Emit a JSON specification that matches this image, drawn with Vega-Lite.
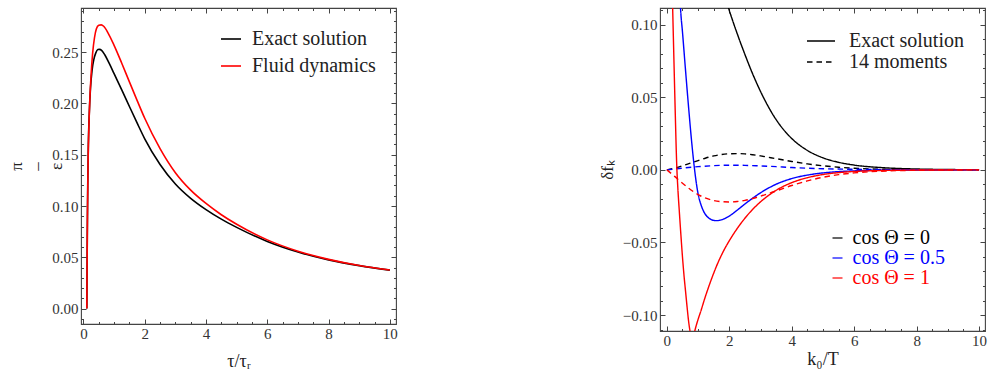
{
 "$schema": "https://vega.github.io/schema/vega-lite/v6.json",
 "padding": {"left": 7, "top": 0, "right": 0, "bottom": 0},
 "background": "white",
 "config": {
  "view": {"stroke": "#444", "strokeWidth": 1.1},
  "font": "Liberation Serif",
  "axis": {"labelFont": "Liberation Serif", "labelFontSize": 15, "labelColor": "#333", "titleFont": "Liberation Serif", "titleFontSize": 18, "titleFontWeight": "normal", "titleColor": "#222", "domain": false, "grid": false, "tickColor": "#444", "tickWidth": 1, "labelOverlap": false, "labelFlush": false},
  "legend": {"labelFont": "Liberation Serif", "labelFontSize": 20, "labelColor": "#222", "labelLimit": 300}
 },
 "resolve": {"scale": {"color": "independent", "strokeDash": "independent"}, "legend": {"color": "independent"}},
 "spacing": 199,
 "datasets": {
  "pi": [
   {"s": "Exact solution", "t": 0.11, "v": 0},
   {"s": "Exact solution", "t": 0.125, "v": 0.07},
   {"s": "Exact solution", "t": 0.14, "v": 0.12},
   {"s": "Exact solution", "t": 0.16, "v": 0.16},
   {"s": "Exact solution", "t": 0.19, "v": 0.19},
   {"s": "Exact solution", "t": 0.23, "v": 0.215},
   {"s": "Exact solution", "t": 0.28, "v": 0.232},
   {"s": "Exact solution", "t": 0.34, "v": 0.243},
   {"s": "Exact solution", "t": 0.4, "v": 0.249},
   {"s": "Exact solution", "t": 0.47, "v": 0.2525},
   {"s": "Exact solution", "t": 0.52, "v": 0.2527},
   {"s": "Exact solution", "t": 0.6, "v": 0.2515},
   {"s": "Exact solution", "t": 0.7, "v": 0.2472},
   {"s": "Exact solution", "t": 0.85, "v": 0.2385},
   {"s": "Exact solution", "t": 1.0, "v": 0.229},
   {"s": "Exact solution", "t": 1.25, "v": 0.2132},
   {"s": "Exact solution", "t": 1.5, "v": 0.197},
   {"s": "Exact solution", "t": 1.75, "v": 0.181},
   {"s": "Exact solution", "t": 2.0, "v": 0.1655},
   {"s": "Exact solution", "t": 2.5, "v": 0.1405},
   {"s": "Exact solution", "t": 3.0, "v": 0.1215},
   {"s": "Exact solution", "t": 3.5, "v": 0.1075},
   {"s": "Exact solution", "t": 4.0, "v": 0.0965},
   {"s": "Exact solution", "t": 4.5, "v": 0.0872},
   {"s": "Exact solution", "t": 5.0, "v": 0.0792},
   {"s": "Exact solution", "t": 6.0, "v": 0.0655},
   {"s": "Exact solution", "t": 7.0, "v": 0.0552},
   {"s": "Exact solution", "t": 8.0, "v": 0.0475},
   {"s": "Exact solution", "t": 9.0, "v": 0.0419},
   {"s": "Exact solution", "t": 10.0, "v": 0.0375},
   {"s": "Fluid dynamics", "t": 0.11, "v": 0},
   {"s": "Fluid dynamics", "t": 0.13, "v": 0.09},
   {"s": "Fluid dynamics", "t": 0.15, "v": 0.14},
   {"s": "Fluid dynamics", "t": 0.18, "v": 0.18},
   {"s": "Fluid dynamics", "t": 0.21, "v": 0.205},
   {"s": "Fluid dynamics", "t": 0.25, "v": 0.228},
   {"s": "Fluid dynamics", "t": 0.3, "v": 0.249},
   {"s": "Fluid dynamics", "t": 0.36, "v": 0.264},
   {"s": "Fluid dynamics", "t": 0.42, "v": 0.2725},
   {"s": "Fluid dynamics", "t": 0.5, "v": 0.2762},
   {"s": "Fluid dynamics", "t": 0.58, "v": 0.2766},
   {"s": "Fluid dynamics", "t": 0.66, "v": 0.2752},
   {"s": "Fluid dynamics", "t": 0.8, "v": 0.2688},
   {"s": "Fluid dynamics", "t": 1.0, "v": 0.2566},
   {"s": "Fluid dynamics", "t": 1.25, "v": 0.2392},
   {"s": "Fluid dynamics", "t": 1.5, "v": 0.221},
   {"s": "Fluid dynamics", "t": 1.75, "v": 0.203},
   {"s": "Fluid dynamics", "t": 2.0, "v": 0.1855},
   {"s": "Fluid dynamics", "t": 2.5, "v": 0.156},
   {"s": "Fluid dynamics", "t": 3.0, "v": 0.1325},
   {"s": "Fluid dynamics", "t": 3.5, "v": 0.1155},
   {"s": "Fluid dynamics", "t": 4.0, "v": 0.1025},
   {"s": "Fluid dynamics", "t": 4.5, "v": 0.0915},
   {"s": "Fluid dynamics", "t": 5.0, "v": 0.0822},
   {"s": "Fluid dynamics", "t": 6.0, "v": 0.067},
   {"s": "Fluid dynamics", "t": 7.0, "v": 0.056},
   {"s": "Fluid dynamics", "t": 8.0, "v": 0.048},
   {"s": "Fluid dynamics", "t": 9.0, "v": 0.042},
   {"s": "Fluid dynamics", "t": 10.0, "v": 0.0376}
  ],
  "df": [
   {"c": "cos Θ = 0", "m": "Exact solution", "k": 1.8, "f": 0.124},
   {"c": "cos Θ = 0", "m": "Exact solution", "k": 2.0, "f": 0.1098},
   {"c": "cos Θ = 0", "m": "Exact solution", "k": 2.25, "f": 0.094},
   {"c": "cos Θ = 0", "m": "Exact solution", "k": 2.5, "f": 0.0795},
   {"c": "cos Θ = 0", "m": "Exact solution", "k": 2.75, "f": 0.066},
   {"c": "cos Θ = 0", "m": "Exact solution", "k": 3.0, "f": 0.054},
   {"c": "cos Θ = 0", "m": "Exact solution", "k": 3.25, "f": 0.0435},
   {"c": "cos Θ = 0", "m": "Exact solution", "k": 3.5, "f": 0.0346},
   {"c": "cos Θ = 0", "m": "Exact solution", "k": 3.75, "f": 0.0274},
   {"c": "cos Θ = 0", "m": "Exact solution", "k": 4.0, "f": 0.0216},
   {"c": "cos Θ = 0", "m": "Exact solution", "k": 4.5, "f": 0.0134},
   {"c": "cos Θ = 0", "m": "Exact solution", "k": 5.0, "f": 0.0083},
   {"c": "cos Θ = 0", "m": "Exact solution", "k": 5.5, "f": 0.0052},
   {"c": "cos Θ = 0", "m": "Exact solution", "k": 6.0, "f": 0.0033},
   {"c": "cos Θ = 0", "m": "Exact solution", "k": 7.0, "f": 0.0014},
   {"c": "cos Θ = 0", "m": "Exact solution", "k": 8.0, "f": 0.0006},
   {"c": "cos Θ = 0", "m": "Exact solution", "k": 9.0, "f": 0.00025},
   {"c": "cos Θ = 0", "m": "Exact solution", "k": 10.0, "f": 0.0001},
   {"c": "cos Θ = 0", "m": "14 moments", "k": 0, "f": 0},
   {"c": "cos Θ = 0", "m": "14 moments", "k": 0.25, "f": 0.0012},
   {"c": "cos Θ = 0", "m": "14 moments", "k": 0.5, "f": 0.0028},
   {"c": "cos Θ = 0", "m": "14 moments", "k": 0.75, "f": 0.0046},
   {"c": "cos Θ = 0", "m": "14 moments", "k": 1.0, "f": 0.0064},
   {"c": "cos Θ = 0", "m": "14 moments", "k": 1.25, "f": 0.0082},
   {"c": "cos Θ = 0", "m": "14 moments", "k": 1.5, "f": 0.0096},
   {"c": "cos Θ = 0", "m": "14 moments", "k": 1.75, "f": 0.0106},
   {"c": "cos Θ = 0", "m": "14 moments", "k": 2.0, "f": 0.0111},
   {"c": "cos Θ = 0", "m": "14 moments", "k": 2.25, "f": 0.0112},
   {"c": "cos Θ = 0", "m": "14 moments", "k": 2.5, "f": 0.011},
   {"c": "cos Θ = 0", "m": "14 moments", "k": 2.75, "f": 0.0104},
   {"c": "cos Θ = 0", "m": "14 moments", "k": 3.0, "f": 0.0096},
   {"c": "cos Θ = 0", "m": "14 moments", "k": 3.5, "f": 0.0077},
   {"c": "cos Θ = 0", "m": "14 moments", "k": 4.0, "f": 0.0058},
   {"c": "cos Θ = 0", "m": "14 moments", "k": 4.5, "f": 0.0041},
   {"c": "cos Θ = 0", "m": "14 moments", "k": 5.0, "f": 0.0028},
   {"c": "cos Θ = 0", "m": "14 moments", "k": 5.5, "f": 0.0018},
   {"c": "cos Θ = 0", "m": "14 moments", "k": 6.0, "f": 0.0011},
   {"c": "cos Θ = 0", "m": "14 moments", "k": 7.0, "f": 0.0004},
   {"c": "cos Θ = 0", "m": "14 moments", "k": 8.0, "f": 0.00015},
   {"c": "cos Θ = 0", "m": "14 moments", "k": 9.0, "f": 0.00005},
   {"c": "cos Θ = 0", "m": "14 moments", "k": 10.0, "f": 0},
   {"c": "cos Θ = 0.5", "m": "Exact solution", "k": 0.38, "f": 0.14},
   {"c": "cos Θ = 0.5", "m": "Exact solution", "k": 0.44, "f": 0.1105},
   {"c": "cos Θ = 0.5", "m": "Exact solution", "k": 0.5, "f": 0.095},
   {"c": "cos Θ = 0.5", "m": "Exact solution", "k": 0.6, "f": 0.068},
   {"c": "cos Θ = 0.5", "m": "Exact solution", "k": 0.7, "f": 0.042},
   {"c": "cos Θ = 0.5", "m": "Exact solution", "k": 0.8, "f": 0.018},
   {"c": "cos Θ = 0.5", "m": "Exact solution", "k": 0.9, "f": -0.002},
   {"c": "cos Θ = 0.5", "m": "Exact solution", "k": 1.0, "f": -0.0165},
   {"c": "cos Θ = 0.5", "m": "Exact solution", "k": 1.1, "f": -0.0245},
   {"c": "cos Θ = 0.5", "m": "Exact solution", "k": 1.2, "f": -0.0295},
   {"c": "cos Θ = 0.5", "m": "Exact solution", "k": 1.35, "f": -0.0333},
   {"c": "cos Θ = 0.5", "m": "Exact solution", "k": 1.5, "f": -0.0348},
   {"c": "cos Θ = 0.5", "m": "Exact solution", "k": 1.6, "f": -0.035},
   {"c": "cos Θ = 0.5", "m": "Exact solution", "k": 1.75, "f": -0.0344},
   {"c": "cos Θ = 0.5", "m": "Exact solution", "k": 2.0, "f": -0.0318},
   {"c": "cos Θ = 0.5", "m": "Exact solution", "k": 2.25, "f": -0.0278},
   {"c": "cos Θ = 0.5", "m": "Exact solution", "k": 2.5, "f": -0.0235},
   {"c": "cos Θ = 0.5", "m": "Exact solution", "k": 2.75, "f": -0.0195},
   {"c": "cos Θ = 0.5", "m": "Exact solution", "k": 3.0, "f": -0.0158},
   {"c": "cos Θ = 0.5", "m": "Exact solution", "k": 3.25, "f": -0.0126},
   {"c": "cos Θ = 0.5", "m": "Exact solution", "k": 3.5, "f": -0.0099},
   {"c": "cos Θ = 0.5", "m": "Exact solution", "k": 4.0, "f": -0.006},
   {"c": "cos Θ = 0.5", "m": "Exact solution", "k": 4.5, "f": -0.0036},
   {"c": "cos Θ = 0.5", "m": "Exact solution", "k": 5.0, "f": -0.0021},
   {"c": "cos Θ = 0.5", "m": "Exact solution", "k": 5.5, "f": -0.0012},
   {"c": "cos Θ = 0.5", "m": "Exact solution", "k": 6.0, "f": -0.0007},
   {"c": "cos Θ = 0.5", "m": "Exact solution", "k": 7.0, "f": -0.0002},
   {"c": "cos Θ = 0.5", "m": "Exact solution", "k": 8.0, "f": -0.0001},
   {"c": "cos Θ = 0.5", "m": "Exact solution", "k": 10.0, "f": 0},
   {"c": "cos Θ = 0.5", "m": "14 moments", "k": 0, "f": 0},
   {"c": "cos Θ = 0.5", "m": "14 moments", "k": 0.5, "f": 0.0012},
   {"c": "cos Θ = 0.5", "m": "14 moments", "k": 1.0, "f": 0.0022},
   {"c": "cos Θ = 0.5", "m": "14 moments", "k": 1.5, "f": 0.0029},
   {"c": "cos Θ = 0.5", "m": "14 moments", "k": 2.0, "f": 0.0032},
   {"c": "cos Θ = 0.5", "m": "14 moments", "k": 2.5, "f": 0.0031},
   {"c": "cos Θ = 0.5", "m": "14 moments", "k": 3.0, "f": 0.0027},
   {"c": "cos Θ = 0.5", "m": "14 moments", "k": 3.5, "f": 0.0022},
   {"c": "cos Θ = 0.5", "m": "14 moments", "k": 4.0, "f": 0.0016},
   {"c": "cos Θ = 0.5", "m": "14 moments", "k": 5.0, "f": 0.0008},
   {"c": "cos Θ = 0.5", "m": "14 moments", "k": 6.0, "f": 0.0004},
   {"c": "cos Θ = 0.5", "m": "14 moments", "k": 7.0, "f": 0.00015},
   {"c": "cos Θ = 0.5", "m": "14 moments", "k": 8.0, "f": 0.00005},
   {"c": "cos Θ = 0.5", "m": "14 moments", "k": 10.0, "f": 0},
   {"c": "cos Θ = 1", "m": "Exact solution", "k": 0.15, "f": 0.142},
   {"c": "cos Θ = 1", "m": "Exact solution", "k": 0.186, "f": 0.111},
   {"c": "cos Θ = 1", "m": "Exact solution", "k": 0.22, "f": 0.081},
   {"c": "cos Θ = 1", "m": "Exact solution", "k": 0.25, "f": 0.055},
   {"c": "cos Θ = 1", "m": "Exact solution", "k": 0.28, "f": 0.03},
   {"c": "cos Θ = 1", "m": "Exact solution", "k": 0.3, "f": 0.014},
   {"c": "cos Θ = 1", "m": "Exact solution", "k": 0.32, "f": 0.001},
   {"c": "cos Θ = 1", "m": "Exact solution", "k": 0.35, "f": -0.012},
   {"c": "cos Θ = 1", "m": "Exact solution", "k": 0.4, "f": -0.029},
   {"c": "cos Θ = 1", "m": "Exact solution", "k": 0.45, "f": -0.045},
   {"c": "cos Θ = 1", "m": "Exact solution", "k": 0.5, "f": -0.06},
   {"c": "cos Θ = 1", "m": "Exact solution", "k": 0.55, "f": -0.073},
   {"c": "cos Θ = 1", "m": "Exact solution", "k": 0.6, "f": -0.084},
   {"c": "cos Θ = 1", "m": "Exact solution", "k": 0.65, "f": -0.095},
   {"c": "cos Θ = 1", "m": "Exact solution", "k": 0.7, "f": -0.105},
   {"c": "cos Θ = 1", "m": "Exact solution", "k": 0.75, "f": -0.112},
   {"c": "cos Θ = 1", "m": "Exact solution", "k": 0.8, "f": -0.1155},
   {"c": "cos Θ = 1", "m": "Exact solution", "k": 0.85, "f": -0.115},
   {"c": "cos Θ = 1", "m": "Exact solution", "k": 0.9, "f": -0.1105},
   {"c": "cos Θ = 1", "m": "Exact solution", "k": 0.95, "f": -0.1065},
   {"c": "cos Θ = 1", "m": "Exact solution", "k": 1.0, "f": -0.103},
   {"c": "cos Θ = 1", "m": "Exact solution", "k": 1.1, "f": -0.0965},
   {"c": "cos Θ = 1", "m": "Exact solution", "k": 1.2, "f": -0.0895},
   {"c": "cos Θ = 1", "m": "Exact solution", "k": 1.3, "f": -0.083},
   {"c": "cos Θ = 1", "m": "Exact solution", "k": 1.45, "f": -0.074},
   {"c": "cos Θ = 1", "m": "Exact solution", "k": 1.6, "f": -0.0658},
   {"c": "cos Θ = 1", "m": "Exact solution", "k": 1.8, "f": -0.0565},
   {"c": "cos Θ = 1", "m": "Exact solution", "k": 2.0, "f": -0.0488},
   {"c": "cos Θ = 1", "m": "Exact solution", "k": 2.25, "f": -0.0405},
   {"c": "cos Θ = 1", "m": "Exact solution", "k": 2.5, "f": -0.0333},
   {"c": "cos Θ = 1", "m": "Exact solution", "k": 2.75, "f": -0.0272},
   {"c": "cos Θ = 1", "m": "Exact solution", "k": 3.0, "f": -0.022},
   {"c": "cos Θ = 1", "m": "Exact solution", "k": 3.25, "f": -0.0177},
   {"c": "cos Θ = 1", "m": "Exact solution", "k": 3.5, "f": -0.0141},
   {"c": "cos Θ = 1", "m": "Exact solution", "k": 4.0, "f": -0.0088},
   {"c": "cos Θ = 1", "m": "Exact solution", "k": 4.5, "f": -0.0054},
   {"c": "cos Θ = 1", "m": "Exact solution", "k": 5.0, "f": -0.0032},
   {"c": "cos Θ = 1", "m": "Exact solution", "k": 5.5, "f": -0.0019},
   {"c": "cos Θ = 1", "m": "Exact solution", "k": 6.0, "f": -0.0011},
   {"c": "cos Θ = 1", "m": "Exact solution", "k": 7.0, "f": -0.0004},
   {"c": "cos Θ = 1", "m": "Exact solution", "k": 8.0, "f": -0.00015},
   {"c": "cos Θ = 1", "m": "Exact solution", "k": 10.0, "f": 0},
   {"c": "cos Θ = 1", "m": "14 moments", "k": 0, "f": 0},
   {"c": "cos Θ = 1", "m": "14 moments", "k": 0.25, "f": -0.0045},
   {"c": "cos Θ = 1", "m": "14 moments", "k": 0.5, "f": -0.0092},
   {"c": "cos Θ = 1", "m": "14 moments", "k": 0.75, "f": -0.0135},
   {"c": "cos Θ = 1", "m": "14 moments", "k": 1.0, "f": -0.017},
   {"c": "cos Θ = 1", "m": "14 moments", "k": 1.25, "f": -0.0195},
   {"c": "cos Θ = 1", "m": "14 moments", "k": 1.5, "f": -0.0211},
   {"c": "cos Θ = 1", "m": "14 moments", "k": 1.75, "f": -0.0219},
   {"c": "cos Θ = 1", "m": "14 moments", "k": 2.0, "f": -0.0221},
   {"c": "cos Θ = 1", "m": "14 moments", "k": 2.25, "f": -0.0218},
   {"c": "cos Θ = 1", "m": "14 moments", "k": 2.5, "f": -0.021},
   {"c": "cos Θ = 1", "m": "14 moments", "k": 2.75, "f": -0.0197},
   {"c": "cos Θ = 1", "m": "14 moments", "k": 3.0, "f": -0.0181},
   {"c": "cos Θ = 1", "m": "14 moments", "k": 3.5, "f": -0.0145},
   {"c": "cos Θ = 1", "m": "14 moments", "k": 4.0, "f": -0.0108},
   {"c": "cos Θ = 1", "m": "14 moments", "k": 4.5, "f": -0.0076},
   {"c": "cos Θ = 1", "m": "14 moments", "k": 5.0, "f": -0.0051},
   {"c": "cos Θ = 1", "m": "14 moments", "k": 5.5, "f": -0.0033},
   {"c": "cos Θ = 1", "m": "14 moments", "k": 6.0, "f": -0.0021},
   {"c": "cos Θ = 1", "m": "14 moments", "k": 7.0, "f": -0.0008},
   {"c": "cos Θ = 1", "m": "14 moments", "k": 8.0, "f": -0.0003},
   {"c": "cos Θ = 1", "m": "14 moments", "k": 9.0, "f": -0.0001},
   {"c": "cos Θ = 1", "m": "14 moments", "k": 10.0, "f": 0}
  ]
 },
 "hconcat": [
  {
   "width": 315,
   "height": 316,
   "data": {"name": "pi"},
   "layer": [
    {
     "mark": {"type": "line", "strokeWidth": 1.6, "interpolate": "monotone", "clip": true},
     "encoding": {
      "x": {"field": "t", "type": "quantitative", "scale": {"domain": [-0.08, 10.2], "nice": false, "zero": false},
       "axis": {"orient": "bottom", "title": "τ/τᵣ", "titleFont": "Liberation Serif", "titleFontSize": 18, "titleFontWeight": "normal", "labelFont": "Liberation Serif", "labelFontSize": 15, "labelColor": "#333",
        "values": [0,0.5,1,1.5,2,2.5,3,3.5,4,4.5,5,5.5,6,6.5,7,7.5,8,8.5,9,9.5,10],
        "tickSize": {"condition": {"test": "datum.value % 2 == 0", "value": -5}, "value": -2.5},
        "labelExpr": "datum.value % 2 == 0 ? format(datum.value, 'd') : ''", "labelPadding": 7, "titlePadding": 9}},
      "y": {"field": "v", "type": "quantitative", "scale": {"domain": [-0.015, 0.293], "nice": false, "zero": false},
       "axis": {"orient": "left", "title": ["π", "–", "ε"], "titleFont": "Liberation Serif", "titleLineHeight": 20, "titleFontSize": 17, "titleFontWeight": "normal", "labelFont": "Liberation Serif", "labelFontSize": 15, "labelColor": "#333", "format": ".2f",
        "values": [-0.01,0,0.01,0.02,0.03,0.04,0.05,0.06,0.07,0.08,0.09,0.1,0.11,0.12,0.13,0.14,0.15,0.16,0.17,0.18,0.19,0.2,0.21,0.22,0.23,0.24,0.25,0.26,0.27,0.28,0.29],
        "tickSize": {"condition": {"test": "abs(round(datum.value*100)) % 5 == 0", "value": -5}, "value": -2.5},
        "labelExpr": "abs(round(datum.value*100)) % 5 == 0 ? datum.label : ''", "labelPadding": 8, "titlePadding": -14}},
      "color": {"field": "s", "type": "nominal", "scale": {"domain": ["Exact solution", "Fluid dynamics"], "range": ["#000000", "#ff0000"]},
       "legend": {"orient": "none", "legendX": 139, "legendY": 20, "title": null, "symbolType": "stroke", "symbolSize": 400, "symbolStrokeWidth": 1.6, "labelOffset": 10, "rowPadding": 6, "labelFontSize": 20, "labelFont": "Liberation Serif"}}
     }
    },
    {
     "mark": {"type": "line", "opacity": 0, "clip": true},
     "encoding": {
      "x": {"field": "t", "type": "quantitative",
       "axis": {"orient": "top", "title": ".", "titleOpacity": 0, "titleFontSize": 5, "titlePadding": 1, "labels": false, "values": [0,0.5,1,1.5,2,2.5,3,3.5,4,4.5,5,5.5,6,6.5,7,7.5,8,8.5,9,9.5,10],
        "tickSize": {"condition": {"test": "datum.value % 2 == 0", "value": -5}, "value": -2.5}}},
      "y": {"field": "v", "type": "quantitative",
       "axis": {"orient": "right", "title": null, "labels": false,
        "values": [-0.01,0,0.01,0.02,0.03,0.04,0.05,0.06,0.07,0.08,0.09,0.1,0.11,0.12,0.13,0.14,0.15,0.16,0.17,0.18,0.19,0.2,0.21,0.22,0.23,0.24,0.25,0.26,0.27,0.28,0.29],
        "tickSize": {"condition": {"test": "abs(round(datum.value*100)) % 5 == 0", "value": -5}, "value": -2.5}}}
     }
    }
   ],
   "resolve": {"axis": {"x": "independent", "y": "independent"}}
  },
  {
   "width": 325,
   "height": 323,
   "data": {"name": "df"},
   "layer": [
    {
     "mark": {"type": "line", "strokeWidth": 1.4, "interpolate": "monotone", "clip": true},
     "encoding": {
      "x": {"field": "k", "type": "quantitative", "scale": {"domain": [-0.22, 10.19], "nice": false, "zero": false},
       "axis": {"orient": "bottom", "title": "k₀/T", "titleFont": "Liberation Serif", "titleFontSize": 18, "titleFontWeight": "normal", "labelFont": "Liberation Serif", "labelFontSize": 15, "labelColor": "#333",
        "values": [0,0.5,1,1.5,2,2.5,3,3.5,4,4.5,5,5.5,6,6.5,7,7.5,8,8.5,9,9.5,10],
        "tickSize": {"condition": {"test": "datum.value % 2 == 0", "value": -5}, "value": -2.5},
        "labelExpr": "datum.value % 2 == 0 ? format(datum.value, 'd') : ''", "labelPadding": 7, "titlePadding": 0}},
      "y": {"field": "f", "type": "quantitative", "scale": {"domain": [-0.111, 0.1115], "nice": false, "zero": false},
       "axis": {"orient": "left", "title": "δfₖ", "titleFont": "Liberation Serif", "titleFontSize": 17, "titleFontWeight": "normal", "labelFont": "Liberation Serif", "labelFontSize": 15, "labelColor": "#333", "format": ".2f",
        "values": [-0.11,-0.1,-0.09,-0.08,-0.07,-0.06,-0.05,-0.04,-0.03,-0.02,-0.01,0,0.01,0.02,0.03,0.04,0.05,0.06,0.07,0.08,0.09,0.1,0.11],
        "tickSize": {"condition": {"test": "abs(round(datum.value*100)) % 5 == 0", "value": -5}, "value": -2.5},
        "labelExpr": "abs(round(datum.value*100)) % 5 == 0 ? datum.label : ''", "labelPadding": 8, "titlePadding": 6}},
      "color": {"field": "c", "type": "nominal", "scale": {"domain": ["cos Θ = 0", "cos Θ = 0.5", "cos Θ = 1"], "range": ["#000000", "#0000ff", "#ff0000"]},
       "legend": {"orient": "none", "legendX": 167.5, "legendY": 220, "title": null, "symbolType": "stroke", "symbolSize": 100, "symbolStrokeWidth": 1.2, "labelOffset": 5, "rowPadding": -1.5, "labelFontSize": 20, "labelFont": "Liberation Serif",
        "encode": {"labels": {"update": {"fill": {"signal": "indexof(datum.label, '0.5') >= 0 ? '#0000ff' : (indexof(datum.label, '= 1') >= 0 ? '#ff0000' : '#000000')"}}}}}},
      "strokeDash": {"field": "m", "type": "nominal", "scale": {"domain": ["Exact solution", "14 moments"], "range": [[1, 0], [5.5, 4]]},
       "legend": {"orient": "none", "legendX": 150, "legendY": 22, "title": null, "symbolType": "M-1.4,0H1.4", "symbolSize": 400, "symbolFillColor": "transparent", "symbolStrokeColor": "#000000", "symbolStrokeWidth": 1.6, "labelOffset": 17, "rowPadding": -2, "labelFontSize": 20, "labelFont": "Liberation Serif"}}
     }
    },
    {
     "mark": {"type": "line", "opacity": 0, "clip": true},
     "encoding": {
      "x": {"field": "k", "type": "quantitative",
       "axis": {"orient": "top", "title": null, "labels": false, "values": [0,0.5,1,1.5,2,2.5,3,3.5,4,4.5,5,5.5,6,6.5,7,7.5,8,8.5,9,9.5,10],
        "tickSize": {"condition": {"test": "datum.value % 2 == 0", "value": -5}, "value": -2.5}}},
      "y": {"field": "f", "type": "quantitative",
       "axis": {"orient": "right", "title": null, "labels": false,
        "values": [-0.11,-0.1,-0.09,-0.08,-0.07,-0.06,-0.05,-0.04,-0.03,-0.02,-0.01,0,0.01,0.02,0.03,0.04,0.05,0.06,0.07,0.08,0.09,0.1,0.11],
        "tickSize": {"condition": {"test": "abs(round(datum.value*100)) % 5 == 0", "value": -5}, "value": -2.5}}}
     }
    }
   ],
   "resolve": {"axis": {"x": "independent", "y": "independent"}}
  }
 ]
}
